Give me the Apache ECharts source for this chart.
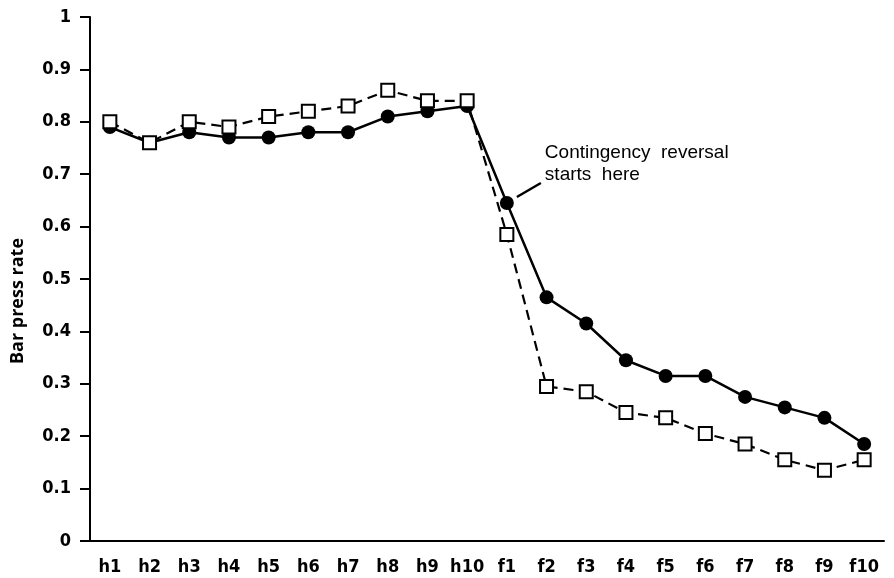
<!DOCTYPE html>
<html>
<head>
<meta charset="utf-8">
<script src="https://cdn.jsdelivr.net/npm/echarts@6/dist/echarts.min.js"></script>
<style>html,body{margin:0;padding:0;background:#fff;}#c{width:894px;height:578px;}</style>
</head>
<body>
<div id="c"></div>
<script>
var categories = ['h1','h2','h3','h4','h5','h6','h7','h8','h9','h10','f1','f2','f3','f4','f5','f6','f7','f8','f9','f10'];
var solidSeries = [0.79,0.76,0.78,0.77,0.77,0.78,0.78,0.81,0.82,0.83,0.645,0.465,0.415,0.345,0.315,0.315,0.275,0.255,0.235,0.185];
var dashedSeries = [0.80,0.76,0.80,0.79,0.81,0.82,0.83,0.86,0.84,0.84,0.585,0.295,0.285,0.245,0.235,0.205,0.185,0.155,0.135,0.155];
var yTickLabels = {'0':'0','0.1':'0.1','0.2':'0.2','0.3':'0.3','0.4':'0.4','0.5':'0.5','0.6':'0.6','0.7':'0.7','0.8':'0.8','0.9':'0.9','1':'1'};
var yAxisTitle = 'Bar press rate';
var annotationLines = ['Contingency  reversal', 'starts  here'];
var annotationIndex = 10;

var chart = echarts.init(document.getElementById('c'), null, {renderer:'canvas'});
var tickFont = {fontFamily:'DejaVu Sans Condensed', fontWeight:'bold', fontSize:18, color:'#000'};
chart.setOption({
  animation:false,
  backgroundColor:'#fff',
  grid:{left:90, right:10, top:17, bottom:37, containLabel:false, outerBoundsMode:'none'},
  xAxis:{
    type:'category', data:categories, boundaryGap:true,
    axisLine:{lineStyle:{color:'#000', width:2}},
    axisTick:{alignWithLabel:true, length:10, lineStyle:{color:'#000', width:2}},
    axisLabel:Object.assign({margin:17, interval:0}, tickFont),
    splitLine:{show:false}
  },
  yAxis:{
    type:'value', min:0, max:1, interval:0.1,
    axisLine:{show:true, lineStyle:{color:'#000', width:2}},
    axisTick:{show:true, length:10, lineStyle:{color:'#000', width:2}},
    axisLabel:Object.assign({margin:19, formatter:function(v){var k=String(Math.round(v*10)/10);return yTickLabels[k]!==undefined?yTickLabels[k]:k;}}, tickFont),
    splitLine:{show:false}
  },
  series:[
    {
      type:'line', data:solidSeries, z:2,
      symbol:'circle', symbolSize:14,
      itemStyle:{color:'#000'},
      lineStyle:{color:'#000', width:2.5}
    },
    {
      type:'line', data:dashedSeries, z:3,
      symbol:'rect', symbolSize:13,
      itemStyle:{color:'#fff', borderColor:'#000', borderWidth:2},
      lineStyle:{color:'#000', width:2.2, type:[10,6]}
    }
  ]
});

var p = chart.convertToPixel({seriesIndex:0}, [annotationIndex, solidSeries[annotationIndex]]);
chart.setOption({
  graphic:[
    {type:'text', x:18, y:301, rotation:Math.PI/2, style:{text:yAxisTitle, font:'bold 18px "Open Sans", sans-serif', fill:'#000', align:'center', verticalAlign:'middle'}},
    {type:'line', shape:{x1:p[0]+10, y1:p[1]-6, x2:p[0]+34, y2:p[1]-20}, style:{stroke:'#000', lineWidth:2.5}},
    {type:'text', x:p[0]+38, y:p[1]-61, style:{text:annotationLines.join('\n'), font:'19px "Liberation Sans", Arial, sans-serif', fill:'#000', lineHeight:22, verticalAlign:'top'}}
  ]
});
</script>
</body>
</html>
